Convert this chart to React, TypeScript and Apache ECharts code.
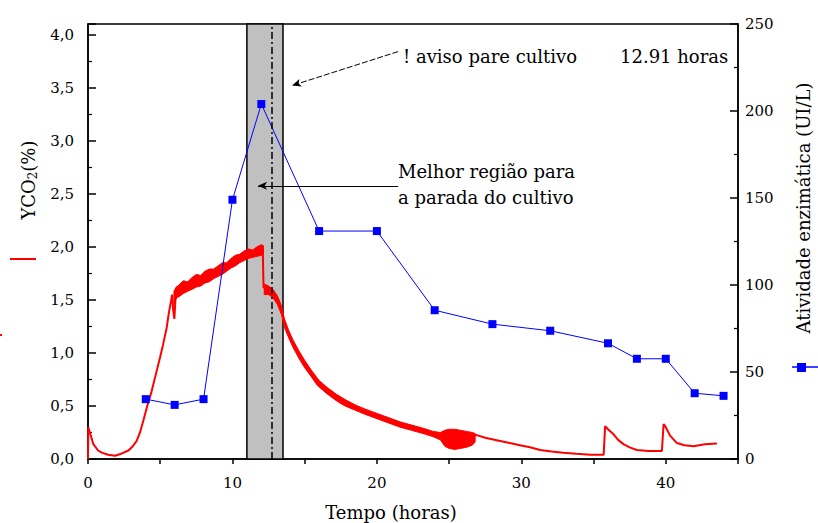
import React, { useEffect, useRef } from "react";
import * as echarts from "echarts";

// CO2 in exhaust gas (%), red trace (centre line)
const co2Hours = [
  0, 0.02, 0.15, 0.37, 0.7, 0.95, 1.4, 1.87, 2.3, 2.8, 3.1, 3.37, 3.6, 3.83, 4.1, 4.41, 4.7, 4.99, 5.2, 5.45,
  5.6, 5.75, 5.82, 5.9, 5.98, 6.05, 6.21, 6.6, 7.0, 7.5, 8.0, 8.5, 9.0, 9.5, 10.0, 10.5, 11.0, 11.5, 12.0, 12.1,
  12.15, 12.5, 12.72, 13.18, 13.35, 13.53, 13.8, 14.22, 14.5, 14.91, 15.3, 15.84, 16.4, 16.99, 17.5, 18.14, 19.0, 19.99, 21.0, 21.84,
  22.6, 23.45, 24.0, 24.4, 25.0, 25.6, 26.2, 26.7, 26.8, 27.5, 28.53, 29.2, 29.9, 30.6, 31.3, 32.1, 32.9, 33.8, 34.8, 35.7,
  35.8, 36.0, 36.4, 36.7, 37.07, 37.5, 38.0, 38.8, 39.73, 39.85, 40.0, 40.3, 40.77, 41.3, 41.92, 42.7, 43.54,
];
const co2Values = [
  0, 0.3, 0.24, 0.14, 0.08, 0.06, 0.04, 0.03, 0.05, 0.08, 0.12, 0.17, 0.25, 0.36, 0.5, 0.64, 0.8, 0.96, 1.08, 1.24,
  1.38, 1.49, 1.55, 1.4, 1.32, 1.5, 1.57, 1.61, 1.64, 1.67, 1.7, 1.73, 1.76, 1.8, 1.84, 1.89, 1.92, 1.94, 1.96, 1.97,
  1.62, 1.59, 1.56, 1.5, 1.41, 1.32, 1.21, 1.09, 1.0, 0.9, 0.82, 0.71, 0.64, 0.58, 0.53, 0.49, 0.45, 0.41, 0.35, 0.31,
  0.28, 0.25, 0.22, 0.2, 0.18, 0.18, 0.18, 0.19, 0.23, 0.2, 0.17, 0.15, 0.13, 0.11, 0.085, 0.07, 0.06, 0.05, 0.04, 0.04,
  0.31, 0.28, 0.23, 0.18, 0.14, 0.11, 0.085, 0.075, 0.075, 0.33, 0.3, 0.22, 0.15, 0.13, 0.12, 0.14, 0.145,
];

// Noise envelope of the CO2 signal
const noise1Hours = [5.95, 6.1, 6.3, 6.6, 6.9, 7.2, 7.5, 7.8, 8.1, 8.4, 8.7, 9.0, 9.3, 9.6, 9.9, 10.2, 10.5, 10.8, 11.1, 11.4, 11.7, 12.0, 12.15];
const noise1Low = [1.45, 1.52, 1.53, 1.56, 1.58, 1.6, 1.62, 1.63, 1.66, 1.67, 1.7, 1.72, 1.74, 1.77, 1.8, 1.82, 1.85, 1.87, 1.89, 1.9, 1.91, 1.92, 1.93];
const noise1High = [1.58, 1.62, 1.64, 1.68, 1.67, 1.71, 1.74, 1.73, 1.77, 1.79, 1.79, 1.82, 1.85, 1.85, 1.89, 1.92, 1.93, 1.96, 1.98, 1.97, 2.0, 2.02, 2.01];

const noise2Hours = [12.2, 12.5, 12.8, 13.1, 13.4, 13.6, 13.9, 14.2, 14.6, 15.0, 15.5, 16.0, 16.6, 17.2, 17.8, 18.5, 19.2, 20.0, 20.8, 21.6, 22.4, 23.2, 23.9, 24.4, 24.7, 25.0, 25.4, 25.8, 26.2, 26.6, 26.8];
const noise2Low = [1.55, 1.55, 1.52, 1.46, 1.36, 1.24, 1.14, 1.05, 0.95, 0.86, 0.77, 0.68, 0.61, 0.55, 0.5, 0.46, 0.42, 0.38, 0.34, 0.3, 0.27, 0.24, 0.21, 0.18, 0.12, 0.1, 0.09, 0.1, 0.11, 0.13, 0.16];
const noise2High = [1.65, 1.63, 1.6, 1.54, 1.44, 1.32, 1.21, 1.12, 1.02, 0.93, 0.83, 0.74, 0.67, 0.61, 0.56, 0.51, 0.47, 0.43, 0.39, 0.35, 0.32, 0.29, 0.26, 0.25, 0.27, 0.28, 0.28, 0.27, 0.26, 0.25, 0.24];

// Enzymatic activity (UI/L), blue squares
const activityHours = [4, 6, 8, 10, 12, 16, 20, 24, 28, 32, 36, 38, 40, 42, 44];
const activityValues = [34.4, 31.1, 34.4, 149, 204, 131, 131, 85.5, 77.5, 73.7, 66.5, 57.6, 57.6, 37.8, 36.3];

// Annotations (data coordinates)
const bestRegion = [11, 13.5];
const stopTime = 12.72;
const warnArrow = [[21.47, 3.84], [14.13, 3.52]];
const regionArrow = [[21.47, 2.575], [11.77, 2.575]];

// Axes
const xMax = 45;
const xInterval = 10;
const leftMax = 4.1;
const leftInterval = 0.5;
const rightMax = 250;
const rightInterval = 50;

const FONT = "DejaVu Serif";

const noiseBands = [
  { hours: noise1Hours, low: noise1Low, high: noise1High },
  { hours: noise2Hours, low: noise2Low, high: noise2High },
];

export default function App() {
  const ref = useRef<HTMLDivElement>(null);

  useEffect(() => {
    if (!ref.current) return;
    const chart = echarts.init(ref.current, null, { renderer: "svg" });

    const axisLineStyle = { color: "#000", width: 1.5 };
    const labelStyle = { color: "#000", fontFamily: FONT, fontSize: 15 };

    const option: any = {
      animation: false,
      backgroundColor: "#fff",
      textStyle: { fontFamily: FONT },
      grid: {
        left: 88,
        right: 80,
        top: 24,
        bottom: 64,
        outerBoundsMode: "none",
        containLabel: false,
        show: true,
        borderColor: "#000",
        borderWidth: 1.5,
        backgroundColor: "transparent",
      },
      xAxis: {
        type: "value",
        min: 0,
        max: xMax,
        interval: xInterval,
        name: "Tempo (horas)",
        nameLocation: "middle",
        nameGap: 44,
        nameTextStyle: { color: "#000", fontFamily: FONT, fontSize: 18, padding: [0, 44, 0, 0] },
        axisLine: { show: true, lineStyle: axisLineStyle },
        axisTick: { show: true, inside: false, length: 5, lineStyle: axisLineStyle },
        minorTick: { show: true, splitNumber: 2, length: 5, lineStyle: { color: "#000", width: 1.5 } },
        axisLabel: { ...labelStyle, margin: 16, showMaxLabel: false },
        splitLine: { show: false },
        minorSplitLine: { show: false },
      },
      yAxis: [
        {
          type: "value",
          position: "left",
          min: 0,
          max: leftMax,
          interval: leftInterval,
          axisLine: { show: true, lineStyle: axisLineStyle },
          axisTick: { show: true, inside: true, length: 8, lineStyle: axisLineStyle },
          minorTick: { show: true, splitNumber: 2, length: 4, lineStyle: { color: "#000", width: 1.2 } },
          axisLabel: {
            ...labelStyle,
            margin: 14,
            showMaxLabel: false,
            formatter: (v: number) => v.toFixed(1).replace(".", ","),
          },
          splitLine: { show: false },
        },
        {
          type: "value",
          position: "right",
          min: 0,
          max: rightMax,
          interval: rightInterval,
          axisLine: { show: true, lineStyle: axisLineStyle },
          axisTick: { show: true, inside: true, length: 8, lineStyle: axisLineStyle },
          minorTick: { show: true, splitNumber: 2, length: 4, lineStyle: { color: "#000", width: 1.2 } },
          axisLabel: { ...labelStyle, margin: 7 },
          splitLine: { show: false },
        },
      ],
      series: [
        {
          name: "YCO2 (%)",
          type: "line",
          yAxisIndex: 0,
          z: 3,
          data: co2Hours.map((h, i) => [h, co2Values[i]]),
          showSymbol: false,
          symbol: "none",
          lineStyle: { color: "#ff0000", width: 2 },
          itemStyle: { color: "#ff0000" },
          markArea: {
            silent: true,
            itemStyle: { color: "#c0c0c0", borderColor: "#000", borderWidth: 1.5 },
            label: { show: false },
            data: [[{ xAxis: bestRegion[0] }, { xAxis: bestRegion[1] }]],
          },
          markLine: {
            silent: true,
            symbol: "none",
            label: { show: false },
            data: [
              { xAxis: stopTime, lineStyle: { color: "#000", width: 1.5, type: [7, 3, 2, 3] } },
              [
                { coord: warnArrow[0], symbol: "none", lineStyle: { color: "#000", width: 1, type: [6, 2] } },
                { coord: warnArrow[1], symbol: "arrow", symbolSize: [6, 9] },
              ],
              [
                { coord: regionArrow[0], symbol: "none", lineStyle: { color: "#000", width: 1.2, type: "solid" } },
                { coord: regionArrow[1], symbol: "arrow", symbolSize: [6, 9] },
              ],
            ],
          },
        },
        {
          name: "YCO2 noise",
          type: "custom",
          yAxisIndex: 0,
          z: 3,
          silent: true,
          data: noiseBands.map((b) => [b.hours[0], b.low[0]]),
          renderItem: (params: any, api: any) => {
            const b = noiseBands[params.dataIndex];
            const top = b.hours.map((h, i) => api.coord([h, b.high[i]]));
            const bottom = b.hours.map((h, i) => api.coord([h, b.low[i]])).reverse();
            return {
              type: "polygon",
              shape: { points: top.concat(bottom) },
              style: { fill: "#ff0000", stroke: "#ff0000", lineWidth: 1 },
            };
          },
        },
        {
          name: "Atividade enzimática (UI/L)",
          type: "line",
          yAxisIndex: 1,
          z: 4,
          data: activityHours.map((h, i) => [h, activityValues[i]]),
          symbol: "rect",
          symbolSize: 8,
          lineStyle: { color: "#0000ff", width: 1 },
          itemStyle: { color: "#0000ff" },
        },
      ],
      graphic: [
        {
          type: "text",
          left: 403,
          top: 47,
          style: { text: "! aviso pare cultivo", fontFamily: FONT, fontSize: 18, fill: "#000" },
        },
        {
          type: "text",
          left: 620,
          top: 47,
          style: { text: "12.91 horas", fontFamily: FONT, fontSize: 18, fill: "#000" },
        },
        {
          type: "text",
          left: 398,
          top: 162,
          style: { text: "Melhor região para", fontFamily: FONT, fontSize: 18, fill: "#000" },
        },
        {
          type: "text",
          left: 398,
          top: 188,
          style: { text: "a parada do cultivo", fontFamily: FONT, fontSize: 18, fill: "#000" },
        },
        {
          type: "text",
          x: 28,
          y: 180,
          rotation: Math.PI / 2,
          style: {
            text: "{a|YCO}{s|2}{a|(%)}",
            align: "center",
            verticalAlign: "middle",
            fill: "#000",
            rich: {
              a: { fontFamily: FONT, fontSize: 18, lineHeight: 22, fill: "#000" },
              s: { fontFamily: FONT, fontSize: 12, lineHeight: 22, fill: "#000", padding: [10, 0, 0, 0] },
            },
          },
        },
        {
          type: "line",
          shape: { x1: 10, y1: 259, x2: 36, y2: 259 },
          style: { stroke: "#ff0000", lineWidth: 2 },
        },
        { type: "rect", shape: { x: 0, y: 334, width: 2, height: 2 }, style: { fill: "#ff0000" } },
        {
          type: "text",
          x: 803,
          y: 208,
          rotation: Math.PI / 2,
          style: {
            text: "Atividade enzimática (UI/L)",
            align: "center",
            verticalAlign: "middle",
            fontFamily: FONT,
            fontSize: 18,
            fill: "#000",
          },
        },
        {
          type: "line",
          shape: { x1: 792, y1: 367, x2: 818, y2: 367 },
          style: { stroke: "#0000ff", lineWidth: 1.5 },
        },
        { type: "rect", shape: { x: 797, y: 363, width: 9, height: 9 }, style: { fill: "#0000ff" } },
      ],
    };

    chart.setOption(option);
    return () => chart.dispose();
  }, []);

  return <div ref={ref} style={{ width: 818, height: 523, position: "absolute", left: 0, top: 0 }} />;
}
